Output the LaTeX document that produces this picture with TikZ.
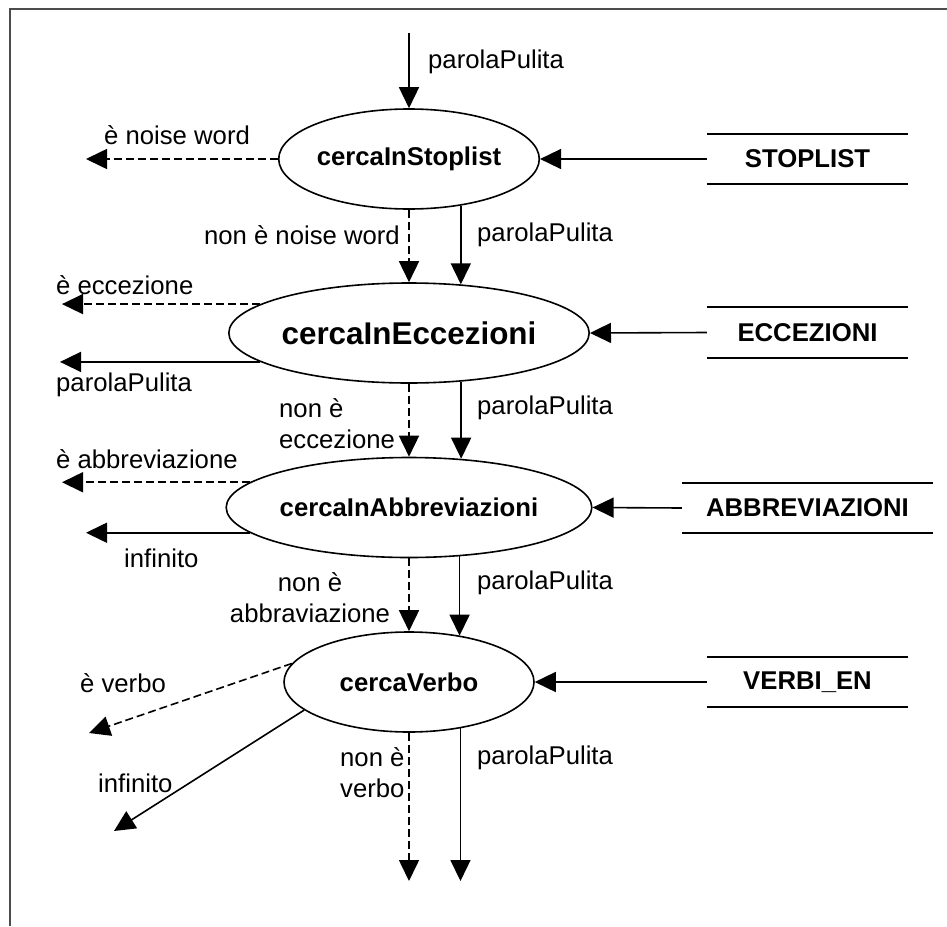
\documentclass[tikz,border=0pt]{standalone}
\usepackage{fontspec}
\setmainfont{Liberation Sans}
\usetikzlibrary{shapes.geometric,arrows.meta}
\begin{document}
\begin{tikzpicture}[x=1pt,y=-1pt,
  every node/.style={font=\fontsize{25.7}{30.8}\selectfont, inner sep=0pt},
  proc/.style={ellipse, draw, line width=1.6pt, minimum height=100pt,
    font=\bfseries\fontsize{25.7}{30.8}\selectfont},
  store/.style={minimum height=50pt, minimum width=201pt,
    font=\bfseries\fontsize{25.7}{30.8}\selectfont},
  storeline/.style={line width=2.2pt},
  flow/.style={line width=1.6pt, -{Triangle[length=21pt,width=20pt]}},
  alt/.style={flow, dash pattern=on 8pt off 4pt},
  lbl/.style={anchor=west},
]
\useasboundingbox (0,0) rectangle (947,926);

% outer frame
\draw[line width=1.5pt, black!70] (10,926) -- (10,9) -- (947,9);

% processes
\node[proc, minimum width=250pt] (e1) at (409,159) {cercaInStoplist};
\node[proc, minimum width=294pt, font=\bfseries\fontsize{31.4}{36}\selectfont] (e2) at (409,333) {cercaInEccezioni};
\node[proc, minimum width=350pt] (e3) at (409,507.5) {cercaInAbbreviazioni};
\node[proc, minimum width=250pt] (e4) at (409,682) {cercaVerbo};

% data stores, each feeding its process
\node[store] (s1) at (807.5,159) {STOPLIST};
\node[store] (s2) at (807.5,332.5) {ECCEZIONI};
\node[store, minimum width=251pt] (s3) at (807.5,508) {ABBREVIAZIONI};
\node[store] (s4) at (807.5,682) {VERBI\_EN};
\foreach \s in {s1,s2,s3,s4}{
  \draw[storeline] (\s.north west) -- (\s.north east);
  \draw[storeline] (\s.south west) -- (\s.south east);
}
\draw[flow] (s1.west) -- (e1.east);
\draw[flow] (s2.west) -- (e2.east);
\draw[flow] (s3.west) -- (e3.east);
\draw[flow] (s4.west) -- (e4.east);

% free ends
\coordinate (in) at (409,33);
\coordinate (c1) at (86,159);
\coordinate (c2) at (62,308);
\coordinate (c3) at (60,358);
\coordinate (c4) at (62,483);
\coordinate (c5) at (86,533);
\coordinate (c6) at (89,733);
\coordinate (c7) at (114,831);
\coordinate (outA) at (409,881);
\coordinate (outB) at (459,881);

% main chain
\draw[flow] (in) -- (e1.north);
\draw[alt] (e1.south) -- (e2.north);
\draw[flow] (e1.-42) -- (e1.-42 |- e2.43);
\draw[alt] (e2.south) -- (e3.north);
\draw[flow] (e2.-43) -- (e2.-43 |- e3.44);
\draw[alt] (e3.south) -- (e4.north);
\draw[flow] (e3.-44) -- (e3.-44 |- e4.42);
\draw[alt] (e4.south) -- (outA);
\draw[flow] (e4.-42) -- (e4.-42 |- outB);

% side exits
\draw[alt] (e1.west) -- (c1);
\draw[alt] (e2.169) -- (e2.169 -| c2);
\draw[flow] (e2.191) -- (e2.191 -| c3);
\draw[alt] (e3.171) -- (e3.171 -| c4);
\draw[flow] (e3.189) -- (e3.189 -| c5);
\draw[alt] (e4.171) -- (c6);
\draw[flow] (e4.195) -- (c7);

% labels
\node[lbl] (t0) at (428,62) {parolaPulita};
\node[lbl] (t1) at (104,135) {è noise word};
\node[anchor=east] (t2) at (400,235) {non è noise word};
\node[lbl] (t3) at (477,235) {parolaPulita};
\node[lbl] (t4) at (56,285) {è eccezione};
\node[lbl] (t5) at (56,385) {parolaPulita};
\node[lbl, align=left] (t6) at (279,423.5) {non è\\eccezione};
\node[lbl] (t7) at (477,408) {parolaPulita};
\node[lbl] (t8) at (56,459) {è abbreviazione};
\node[lbl] (t9) at (124,558) {infinito};
\node[align=center] (t10) at (310,598) {non è\\abbraviazione};
\node[lbl] (t11) at (477,583) {parolaPulita};
\node[lbl] (t12) at (80,683) {è verbo};
\node[lbl] (t13) at (98,783) {infinito};
\node[lbl, align=left] (t14) at (340,773) {non è\\verbo};
\node[lbl] (t15) at (477,758) {parolaPulita};

\end{tikzpicture}
\end{document}
